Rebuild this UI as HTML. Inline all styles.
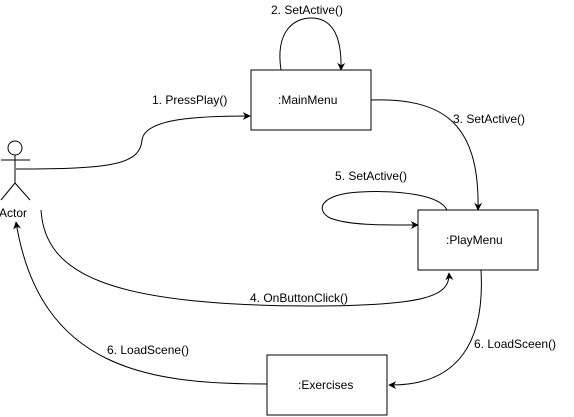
<!DOCTYPE html>
<html><head><style>
html,body{margin:0;padding:0;background:#fff;}
svg{display:block;}
text{font-family:"Liberation Sans",sans-serif;font-size:12px;fill:#000;}
</style></head><body>
<svg width="574" height="417" viewBox="0 0 574 417" xmlns="http://www.w3.org/2000/svg">
<defs>
<marker id="a" viewBox="0 0 10 10" refX="9" refY="5" markerWidth="8" markerHeight="8" orient="auto" markerUnits="userSpaceOnUse">
<path d="M0,0 L10,5 L0,10 L3,5 z" fill="#000"/>
</marker>
</defs>
<g fill="none" stroke="#000" stroke-width="1">
<circle cx="15" cy="148" r="7"/>
<line x1="15" y1="155" x2="15" y2="183"/>
<line x1="1" y1="160" x2="30" y2="160"/>
<line x1="15" y1="183" x2="1" y2="200"/>
<line x1="15" y1="183" x2="30" y2="200"/>
<rect x="251" y="70" width="120" height="60"/>
<rect x="418" y="210" width="120" height="60"/>
<rect x="267" y="355" width="120" height="60"/>
<path d="M16,169 C110,169 140,165 142,140 C145,118 200,116 250,116" marker-end="url(#a)"/>
<path d="M281,70 C275,30 295,18 311,18 C330,18 342,32 341,70" marker-end="url(#a)"/>
<path d="M371,100 C440,98 480,120 478,210" marker-end="url(#a)"/>
<path d="M447,210 C440,195 400,190 360,192 C320,194 315,210 330,218 C350,226 390,225 418,225" marker-end="url(#a)"/>
<path d="M41,210 C45,275 110,305 310,306 C430,306 450,295 449,273" marker-end="url(#a)"/>
<path d="M481,270 C485,340 460,386 389,385" marker-end="url(#a)"/>
<path d="M267,384 C150,384 40,370 16,222" marker-end="url(#a)"/>
</g>
<text x="271" y="14">2. SetActive()</text>
<text x="152" y="104">1. PressPlay()</text>
<text x="453" y="123">3. SetActive()</text>
<text x="335" y="180">5. SetActive()</text>
<text x="250" y="302">4. OnButtonClick()</text>
<text x="474" y="348">6. LoadSceen()</text>
<text x="107" y="354">6. LoadScene()</text>
<text x="278" y="104">:MainMenu</text>
<text x="446" y="244">:PlayMenu</text>
<text x="298" y="389">:Exercises</text>
<text x="-1" y="217">Actor</text>
</svg>
</body></html>
